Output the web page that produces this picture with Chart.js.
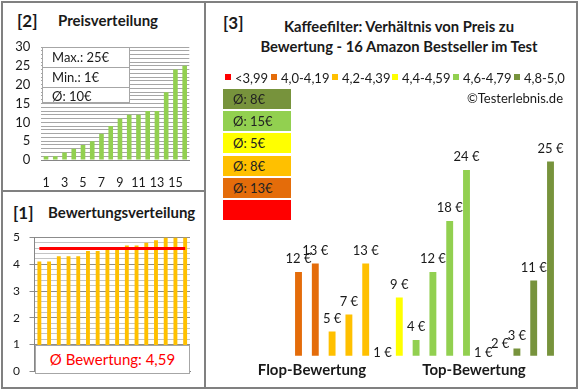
<!DOCTYPE html>
<html>
<head>
<meta charset="utf-8">
<script src="https://cdn.jsdelivr.net/npm/chart.js@4"></script>
<style>
  body { margin: 0; background: #fff; font-family: Lato, "Open Sans", sans-serif; color: #1a1a1a; }
  #wrap { position: relative; width: 580px; height: 390px; overflow: hidden; background: #fff; }
  .abs { position: absolute; white-space: nowrap; }
  canvas { position: absolute; }
  .line { position: absolute; background: #808080; }
  .ctr { transform: translate(-50%, -50%); }
  .mid { transform: translateY(-50%); }
  .b { font-weight: bold; }
</style>
</head>
<body>
<div id="wrap">
  <!-- frame -->
  <div class="abs" style="left:1px;top:1px;width:577px;height:388px;border:2px solid #808080;box-sizing:border-box"></div>
  <div class="line" style="left:204px;top:1px;width:2px;height:388px"></div>
  <div class="line" style="left:1px;top:190px;width:204px;height:2px"></div>

  <!-- [2] price panel -->
  <div class="abs b mid" style="left:17px;top:20px;font-size:17px">[2]</div>
  <div class="abs b mid" style="left:58px;top:20px;font-size:15px">Preisverteilung</div>
  <canvas id="c2" width="200" height="192" style="left:0;top:0"></canvas>
  <div id="priceBox" class="abs" style="left:42px;top:47px;width:88px;height:56px;background:#fff;border:1px solid #a6a6a6;box-sizing:border-box;font-size:13px"></div>

  <!-- [1] rating panel -->
  <div class="abs b mid" style="left:13px;top:212px;font-size:17px">[1]</div>
  <div class="abs b mid" style="left:48px;top:212px;font-size:15px">Bewertungsverteilung</div>
  <canvas id="c1" width="200" height="196" style="left:0;top:192px"></canvas>
  <div id="avgBox" class="abs" style="left:35px;top:345px;width:155px;height:29px;background:#fff;border:1px solid #a6a6a6;box-sizing:border-box;color:#ff0000;font-size:15px;text-align:center;line-height:27px"></div>

  <!-- [3] main panel -->
  <div class="abs b mid" style="left:223px;top:22px;font-size:17px">[3]</div>
  <div class="abs b ctr" style="left:399px;top:26px;font-size:14.8px">Kaffeefilter: Verhältnis von Preis zu</div>
  <div class="abs b ctr" style="left:399px;top:46px;font-size:14.8px">Bewertung - 16 Amazon Bestseller im Test</div>
  <div id="legend"></div>
  <div class="abs mid" style="right:17px;top:98px;font-size:13px">©Testerlebnis.de</div>
  <div id="avgBoxes"></div>
  <canvas id="c3" width="296" height="266" style="left:280px;top:120px"></canvas>
  <div class="abs b ctr" style="left:312px;top:369px;font-size:15px">Flop-Bewertung</div>
  <div class="abs b ctr" style="left:474px;top:369px;font-size:15px">Top-Bewertung</div>
</div>

<script>
// ---- data ----
const priceRanks = ['1','2','3','4','5','6','7','8','9','10','11','12','13','14','15','16'];
const prices = [1, 1, 2, 3, 4, 5, 7, 9, 11, 12, 12, 13, 13, 18, 24, 25];
const priceStats = ['Max.: 25€', 'Min.: 1€', 'Ø: 10€'];

const ratings = [4.1, 4.1, 4.3, 4.3, 4.3, 4.5, 4.5, 4.6, 4.6, 4.7, 4.7, 4.8, 4.9, 5.0, 5.0, 5.0];
const avgRating = 4.59;

const groupLabels = ['<3,99', '4,0-4,19', '4,2-4,39', '4,4-4,59', '4,6-4,79', '4,8-5,0'];
const groupColors = ['#FF0000', '#E46C0A', '#FFC000', '#FFFF00', '#92D050', '#77933C'];
const groupAvg = ['', 'Ø: 13€', 'Ø: 8€', 'Ø: 5€', 'Ø: 15€', 'Ø: 8€'];

// prices sorted by rating group (flop -> top)
const groupPrices = [12, 13, 5, 7, 13, 1, 9, 4, 12, 18, 24, 1, 2, 3, 11, 25];
const groupOfBar = [1, 1, 2, 2, 2, 3, 3, 4, 4, 4, 4, 5, 5, 5, 5, 5];

const tickColor = '#1a1a1a';
const gridGray = '#a6a6a6';

// ---- html bits ----
document.getElementById('priceBox').innerHTML = priceStats.map((t, i) =>
  `<div style="height:${i < 2 ? 19 : 16}px;line-height:${i < 2 ? 19 : 16}px;padding-left:9px;${i < 2 ? 'border-bottom:1px solid #a6a6a6;' : ''}">${t}</div>`
).join('');
document.getElementById('avgBox').textContent = 'Ø Bewertung: ' + avgRating.toString().replace('.', ',');

const legendX = [225, 271, 332, 392, 453, 514];
let lg = '';
groupLabels.forEach((l, i) => {
  lg += `<div class="abs" style="left:${legendX[i]}px;top:74px;width:6px;height:6px;background:${groupColors[i]}"></div>`;
  lg += `<div class="abs mid" style="left:${legendX[i] + 10}px;top:78px;font-size:13px">${l}</div>`;
});
document.getElementById('legend').innerHTML = lg;

let bx = '';
for (let k = 0; k < 6; k++) {
  const g = 5 - k;
  const top = 89 + k * 22.2;
  bx += `<div class="abs" style="left:223px;top:${top}px;width:68px;height:20px;background:${groupColors[g]}"></div>`;
  if (groupAvg[g]) bx += `<div class="abs mid" style="left:233px;top:${top + 10}px;font-size:13px;color:#222">${groupAvg[g]}</div>`;
}
document.getElementById('avgBoxes').innerHTML = bx;

Chart.defaults.font.family = 'Lato, "Open Sans", sans-serif';
Chart.defaults.color = tickColor;

const quiet = { legend: { display: false }, tooltip: { enabled: false } };

// ---- [2] Preisverteilung ----
new Chart(document.getElementById('c2'), {
  type: 'bar',
  data: {
    labels: priceRanks,
    datasets: [{ data: prices, backgroundColor: '#92D050', barPercentage: 0.5, categoryPercentage: 1 }]
  },
  options: {
    responsive: false, animation: false, events: [],
    plugins: quiet,
    layout: { padding: { top: 47, right: 10.4, left: 0, bottom: 0 } },
    scales: {
      x: {
        grid: { display: true, drawOnChartArea: false, drawTicks: false, color: 'transparent' },
        border: { display: true, color: '#868686' },
        ticks: { autoSkip: false, maxRotation: 0, padding: 15, font: { size: 12.5 },
          callback: (v, i) => i % 2 === 0 ? priceRanks[i] : '' },
        afterFit: s => { s.height = 32; }
      },
      y: {
        min: 0, max: 30,
        grid: { color: gridGray, drawTicks: false },
        border: { display: false },
        ticks: { stepSize: 1, autoSkip: false, padding: 11, font: { size: 13 },
          callback: v => v % 5 === 0 ? v : '' },
        afterFit: s => { s.width = 41.4; }
      }
    }
  }
});

// ---- [1] Bewertungsverteilung ----
const isInt = v => Math.abs(v - Math.round(v)) < 1e-6;
new Chart(document.getElementById('c1'), {
  type: 'bar',
  data: {
    labels: priceRanks,
    datasets: [
      { type: 'line', data: ratings.map(() => avgRating), borderColor: '#FF0000', borderWidth: 3,
        pointRadius: 0, fill: false },
      { data: ratings, backgroundColor: '#FFC000', barPercentage: 0.4, categoryPercentage: 1 }
    ]
  },
  options: {
    responsive: false, animation: false, events: [],
    plugins: quiet,
    layout: { padding: { top: 45.5, right: 10, left: 0, bottom: 0 } },
    scales: {
      x: {
        grid: { display: true, drawOnChartArea: false, drawTicks: false, color: 'transparent' },
        border: { display: true, color: '#868686' },
        ticks: { display: false },
        afterFit: s => { s.height = 15; }
      },
      y: {
        min: 0, max: 5,
        grid: {
          color: c => isInt(c.tick.value) ? '#8c8c8c' : '#c4c4c4',
          tickColor: c => isInt(c.tick.value) ? '#8c8c8c' : 'transparent',
          tickLength: 5
        },
        border: { display: true, color: '#868686' },
        ticks: { stepSize: 0.2, autoSkip: false, padding: 9.5, font: { size: 12 },
          callback: v => isInt(v) ? Math.round(v) : '' },
        afterFit: s => { s.width = 34.5; }
      }
    }
  }
});

// ---- [3] Preis nach Bewertung ----
const euroLabels = {
  id: 'euroLabels',
  afterDatasetsDraw(chart) {
    const ctx = chart.ctx;
    const meta = chart.getDatasetMeta(0);
    ctx.save();
    ctx.font = '13px Lato, "Open Sans", sans-serif';
    ctx.fillStyle = '#1a1a1a';
    ctx.textAlign = 'center';
    ctx.textBaseline = 'middle';
    meta.data.forEach((el, i) => {
      ctx.fillText(groupPrices[i] + ' €', el.x, el.y - 13);
    });
    ctx.restore();
  }
};

new Chart(document.getElementById('c3'), {
  type: 'bar',
  data: {
    labels: priceRanks,
    datasets: [{
      data: groupPrices,
      backgroundColor: groupOfBar.map(g => groupColors[g]),
      barPercentage: 0.41, categoryPercentage: 1, clip: 0
    }]
  },
  options: {
    responsive: false, animation: false, events: [],
    plugins: quiet,
    layout: { padding: { top: 16, right: 17.1, left: 10.1, bottom: 30.3 } },
    scales: {
      x: { display: false },
      y: { display: false, min: 2.15, max: 28 }
    }
  },
  plugins: [euroLabels]
});
</script>
</body>
</html>
